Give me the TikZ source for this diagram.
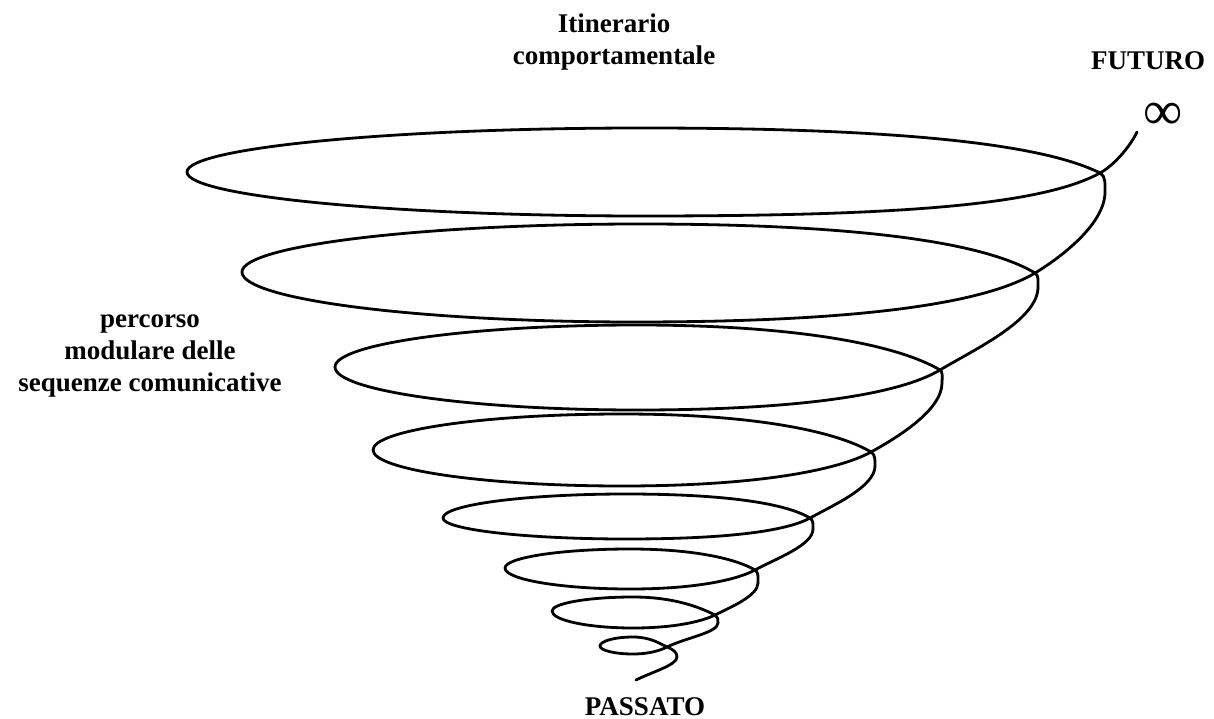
\documentclass[tikz,border=0pt]{standalone}
\usepackage{fontspec}
\setmainfont{Liberation Serif}
\begin{document}
\begin{tikzpicture}[x=1pt,y=-1pt,
  spiral/.style={line width=2.8pt,line cap=round,line join=round},
  lbl/.style={font=\fontsize{27}{32}\selectfont\bfseries,inner sep=0pt},
  multi/.style={lbl,align=center},
  infty/.style={font=\fontsize{55}{55}\selectfont,inner sep=0pt}]
\useasboundingbox (0,0) rectangle (1214,719);
\coordinate (S) at (636,680);
\coordinate (E) at (1137,132);
\coordinate (R8) at (677,657);
\draw[spiral] (S) .. controls (652,672) and (677,665) .. (R8);
\foreach \Rx/\Ry/\Cx/\Cy/\Tx/\Ty/\Lx/\Ly/\Bx/\By/\Nx/\Ny/\mT/\mB/\ex in {
  1105/192/1100/173/643/128/187/172/643/216/1137/132/0.5/0.55/8,
  1038/287/1035/273/640/224/242/272/635/322/1105/192/0.6/0.6/0,
  942/383/940/370/637/325/335/367/637/410/1038/287/0.6/0.6/0,
  875/466/871/452/622/414/373/450/622/486/942/383/0.6/0.55/0,
  813/529/810/518/626/494/443/518/626/539/875/466/0.6/0.55/0,
  758/583/755/570/630/549/505/568/630/589/813/529/0.6/0.55/0,
  718/623/715/615/633/597/552/611/633/628/758/583/0.5/0.5/0,
  677/657/667/647/633/637/600/646/633/654/718/623/0.4/0.5/0}{
  \pgfmathsetmacro\cc{0.6*(\Rx-\Cx)+0.15*(\Ry-\Cy)}
  \pgfmathsetmacro\kk{0.13*(\Cx-\Tx)}
  \pgfmathsetmacro\kb{0.13*(\Cx-\Bx)}
  \pgfmathsetmacro\ss{0.35*(\Nx-\Cx)}
  \pgfmathsetmacro\st{0.4*(\Cy-\Ny)}
  \draw[spiral] (\Rx,\Ry)
    .. controls (\Rx,{\Ry-0.4*(\Ry-\Cy)}) and ({\Cx+\cc},{\Cy+\cc*\mT}) .. (\Cx,\Cy)
    .. controls ({\Cx-\kk},{\Cy-\kk*\mT}) and ({\Tx+0.55*(\Cx-\Tx)},\Ty) .. (\Tx,\Ty)
    .. controls ({\Tx-0.55*(\Tx-\Lx)},\Ty) and (\Lx,{\Ly-0.55*(\Ly-\Ty)}) .. (\Lx,\Ly)
    .. controls (\Lx,{\Ly+0.55*(\By-\Ly)}) and ({\Bx-0.55*(\Bx-\Lx)},\By) .. (\Bx,\By)
    .. controls ({\Bx+0.55*(\Cx-\Bx)},\By) and ({\Cx-\kb},{\Cy+\kb*\mB}) .. (\Cx,\Cy)
    .. controls ({\Cx+\ss},{\Cy-\ss*\mB}) and ({\Nx-\ex},{\Ny+\st}) .. (\Nx,\Ny);
}
\node[multi] (itin) at (614,42) {Itinerario\\comportamentale};
\node[lbl,anchor=base] (fut) at (1148,70) {FUTURO};
\node[infty] (inf) at (1163,116) {∞};
\node[multi] (perc) at (150,356) {percorso\\modulare delle\\sequenze comunicative};
\node[lbl,anchor=base] (pass) at (645,715) {PASSATO};
\end{tikzpicture}
\end{document}
